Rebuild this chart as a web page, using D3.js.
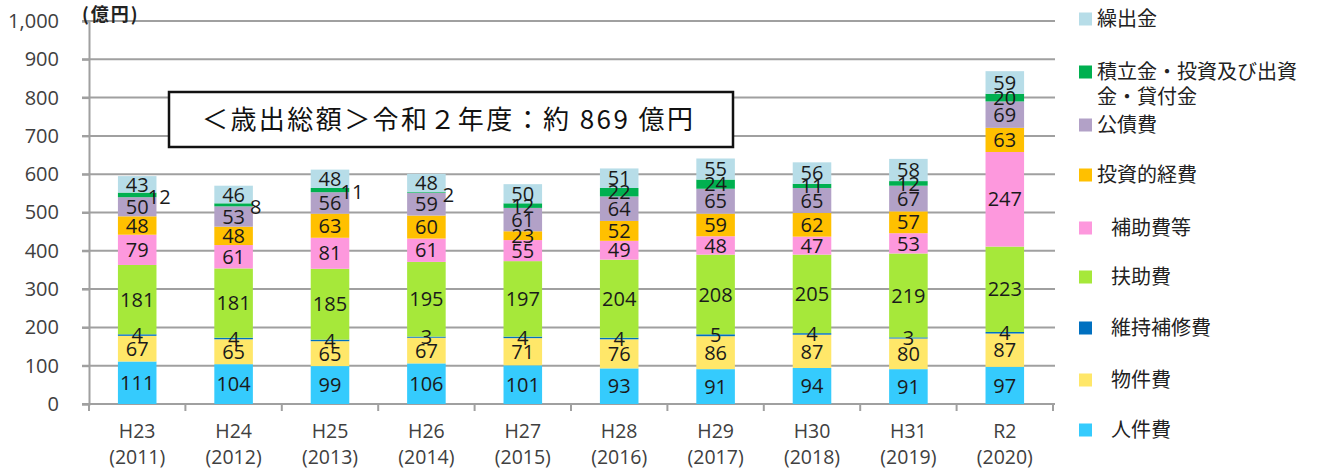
<!DOCTYPE html>
<html>
<head>
<meta charset="utf-8">
<script src="https://cdn.jsdelivr.net/npm/d3@7"></script>
<style>
  body { margin: 0; background: #fff; }
  svg text { font-family: "Open Sans", "DejaVu Sans", sans-serif; }
  svg text.jp { font-family: "Noto Sans CJK JP", sans-serif; }
</style>
</head>
<body>
<svg id="chart" width="1320" height="470"></svg>
<script>
// categories
const years = ["H23", "H24", "H25", "H26", "H27", "H28", "H29", "H30", "H31", "R2"];
const yearsAd = ["(2011)", "(2012)", "(2013)", "(2014)", "(2015)", "(2016)", "(2017)", "(2018)", "(2019)", "(2020)"];

// series values (億円), bottom to top
const personnel   = [111, 104, 99, 106, 101, 93, 91, 94, 91, 97];   // 人件費
const goods       = [67, 65, 65, 67, 71, 76, 86, 87, 80, 87];        // 物件費
const maintenance = [4, 4, 4, 3, 4, 4, 5, 4, 3, 4];                  // 維持補修費
const welfare     = [181, 181, 185, 195, 197, 204, 208, 205, 219, 223]; // 扶助費
const subsidy     = [79, 61, 81, 61, 55, 49, 48, 47, 53, 247];       // 補助費等
const investment  = [48, 48, 63, 60, 23, 52, 59, 62, 57, 63];        // 投資的経費
const debt        = [50, 53, 56, 59, 61, 64, 65, 65, 67, 69];        // 公債費
const reserve     = [12, 8, 11, 2, 12, 22, 24, 11, 12, 20];          // 積立金・投資及び出資金・貸付金
const transfer    = [43, 46, 48, 48, 50, 51, 55, 56, 58, 59];        // 繰出金

const yTicks = [0, 100, 200, 300, 400, 500, 600, 700, 800, 900, 1000];

// labels of the reserve series drawn beside the bar
const besideLabelYears = ["H23", "H24", "H25", "H26"];

const series = [
  { key: "personnel",   name: "人件費",     color: "#35cbfd", values: personnel },
  { key: "goods",       name: "物件費",     color: "#ffe769", values: goods },
  { key: "maintenance", name: "維持補修費", color: "#0070c0", values: maintenance },
  { key: "welfare",     name: "扶助費",     color: "#a6e83a", values: welfare },
  { key: "subsidy",     name: "補助費等",   color: "#fd98dd", values: subsidy },
  { key: "investment",  name: "投資的経費", color: "#ffc000", values: investment },
  { key: "debt",        name: "公債費",     color: "#b2a1c7", values: debt },
  { key: "reserve",     name: "積立金・投資及び出資金・貸付金", color: "#00b050", values: reserve },
  { key: "transfer",    name: "繰出金",     color: "#b7dde8", values: transfer }
];

const table = years.map((y, i) => {
  const row = { year: y };
  series.forEach(s => { row[s.key] = s.values[i]; });
  return row;
});

const margin = { left: 89, top: 21, plotRight: 1053, bottom: 404 };
const svg = d3.select("#chart");

const x = d3.scaleBand().domain(years).range([margin.left, margin.plotRight]).paddingInner(0.6).paddingOuter(0.3);
const xStep = d3.scaleBand().domain(years).range([margin.left, margin.plotRight]);
const y = d3.scaleLinear().domain([0, 1000]).range([margin.bottom, margin.top]);

// grid
svg.append("g")
  .selectAll("line")
  .data(yTicks.slice(1))
  .enter()
  .append("line")
  .attr("x1", margin.left - 7)
  .attr("x2", margin.plotRight + 2)
  .attr("y1", d => y(d))
  .attr("y2", d => y(d))
  .attr("stroke", "#a0a0a0")
  .attr("stroke-width", 2);

// y axis
const yAxis = svg.append("g")
  .attr("transform", `translate(${margin.left},0)`)
  .call(d3.axisLeft(y).tickValues(yTicks).tickFormat(d3.format(",")).tickSize(7).tickPadding(23));
yAxis.attr("font-family", null).attr("font-size", null);
yAxis.select(".domain").attr("stroke", "#a0a0a0").attr("stroke-width", 2);
yAxis.selectAll(".tick line").attr("stroke", "#a0a0a0").attr("stroke-width", 2);
yAxis.selectAll(".tick text")
  .attr("fill", "#404040")
  .style("font-size", "20px");

// x axis baseline and tick marks at category boundaries
svg.append("line")
  .attr("x1", margin.left - 7).attr("x2", margin.plotRight + 2)
  .attr("y1", y(0)).attr("y2", y(0))
  .attr("stroke", "#a0a0a0").attr("stroke-width", 2);
const bounds = years.map(d => xStep(d)).concat([margin.plotRight]);
svg.append("g")
  .selectAll("line")
  .data(bounds)
  .enter()
  .append("line")
  .attr("x1", d => d).attr("x2", d => d)
  .attr("y1", y(0)).attr("y2", y(0) + 7)
  .attr("stroke", "#a0a0a0").attr("stroke-width", 2);

// x labels
const xl = svg.append("g");
years.forEach((d, i) => {
  const cx = x(d) + x.bandwidth() / 2;
  xl.append("text").attr("x", cx).attr("y", 438).attr("text-anchor", "middle")
    .attr("fill", "#404040").style("font-size", "19.5px").text(d);
  xl.append("text").attr("x", cx).attr("y", 464).attr("text-anchor", "middle")
    .attr("fill", "#404040").style("font-size", "19.5px").text(yearsAd[i]);
});

// unit
svg.append("text").attr("class", "jp")
  .attr("x", 82).attr("y", 21)
  .style("font-size", "18px").style("font-weight", "bold").style("letter-spacing", "2px")
  .attr("fill", "#222")
  .text("(億円)");

// stacked bars
const stacked = d3.stack().keys(series.map(s => s.key))(table);
const layers = svg.append("g").selectAll("g")
  .data(stacked)
  .enter()
  .append("g")
  .attr("fill", (d, i) => series[i].color);

layers.selectAll("rect")
  .data(d => d)
  .enter()
  .append("rect")
  .attr("x", d => x(d.data.year))
  .attr("width", x.bandwidth())
  .attr("y", d => y(d[1]))
  .attr("height", d => y(d[0]) - y(d[1]));

// value labels
const labels = svg.append("g");
stacked.forEach((layer, li) => {
  layer.forEach(d => {
    const v = d[1] - d[0];
    let cx = x(d.data.year) + x.bandwidth() / 2;
    let cy = y((d[0] + d[1]) / 2);
    if (series[li].key === "reserve" && besideLabelYears.includes(d.data.year)) {
      cx += 22;
      cy += 2;
    }
    labels.append("text")
      .attr("x", cx).attr("y", cy)
      .attr("dy", "0.36em")
      .attr("text-anchor", "middle")
      .attr("fill", "#1a1a1a")
      .style("font-size", "20px")
      .text(v);
  });
});

// title box
svg.append("rect")
  .attr("x", 169).attr("y", 92).attr("width", 564).attr("height", 55)
  .attr("fill", "#fff").attr("stroke", "#111").attr("stroke-width", 2.5);
svg.append("text").attr("class", "jp")
  .attr("x", 202).attr("y", 120).attr("dy", "0.36em")
  .attr("textLength", 491).attr("lengthAdjust", "spacing")
  .attr("fill", "#111").style("font-size", "26px")
  .text("＜歳出総額＞令和２年度：約 869 億円");

// legend (top to bottom, reverse of stack)
const legendRows = [
  { key: "transfer",    lines: ["繰出金"], y: 19, indent: 0 },
  { key: "reserve",     lines: ["積立金・投資及び出資", "金・貸付金"], y: 72, indent: 0 },
  { key: "debt",        lines: ["公債費"], y: 125, indent: 0 },
  { key: "investment",  lines: ["投資的経費"], y: 175, indent: 0 },
  { key: "subsidy",     lines: ["補助費等"], y: 228, indent: 14 },
  { key: "welfare",     lines: ["扶助費"], y: 277, indent: 14 },
  { key: "maintenance", lines: ["維持補修費"], y: 328, indent: 14 },
  { key: "goods",       lines: ["物件費"], y: 380, indent: 14 },
  { key: "personnel",   lines: ["人件費"], y: 430, indent: 14 }
];
const legend = svg.append("g");
legendRows.forEach(r => {
  const s = series.find(t => t.key === r.key);
  legend.append("rect")
    .attr("x", 1079).attr("y", r.y - 6.5).attr("width", 13).attr("height", 13)
    .attr("fill", s.color);
  r.lines.forEach((ln, k) => {
    legend.append("text").attr("class", "jp")
      .attr("x", 1097 + r.indent).attr("y", r.y + k * 25).attr("dy", "0.36em")
      .attr("fill", "#222").style("font-size", "20px")
      .text(ln);
  });
});
</script>
</body>
</html>
